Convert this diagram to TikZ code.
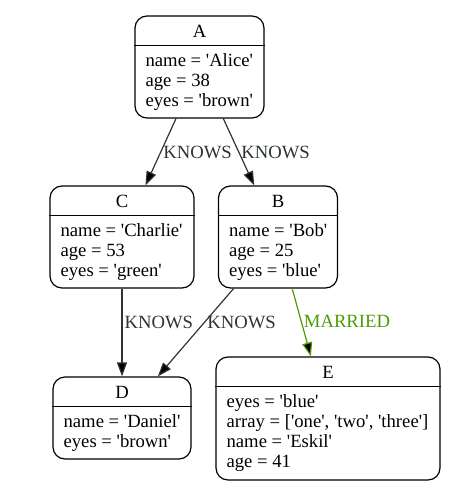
\documentclass[tikz,border=0pt]{standalone}
\usepackage{fontspec}
\setmainfont{Liberation Serif}
\usetikzlibrary{positioning,arrows.meta}
\definecolor{edgegray}{HTML}{2E3436}
\definecolor{marrygreen}{HTML}{4E9A06}
\tikzset{
  record/.style={draw,rounded corners=12pt,line width=1.2pt,inner sep=0pt},
  rectitle/.style={inner sep=0pt},
  recfields/.style={align=left,inner sep=0pt,anchor=north west},
  rel/.style={draw=edgegray,line width=1.2pt,-{Triangle[length=14pt,width=10pt]}},
  rellabel/.style={text=edgegray,anchor=west,inner sep=2pt},
}
\newcommand{\recheader}[1]{\draw[line width=1.2pt] ([yshift=-30pt]#1.north west) -- ([yshift=-30pt]#1.north east);}
\newcommand{\sq}{\textquotesingle}

\begin{document}
\begin{tikzpicture}[x=1pt,y=-1pt,font=\fontsize{18.67}{20}\selectfont]
    \useasboundingbox (0,0) rectangle (467,492);
    % records
    \node[record,minimum width=129pt,minimum height=102pt] (A) at (199.5,67) {};
    \node[record,minimum width=144pt,minimum height=102pt] (C) at (122,237) {};
    \node[record,minimum width=119pt,minimum height=102pt] (B) at (278,237) {};
    \node[record,minimum width=138pt,minimum height=82pt] (D) at (122,418) {};
    \node[record,minimum width=224pt,minimum height=123pt] (E) at (328,418.5) {};
    \recheader{A}
    \recheader{C}
    \recheader{B}
    \recheader{D}
    \recheader{E}
    % titles
    \node[rectitle] (A_t) at ([yshift=-16pt]A.north) {A};
    \node[rectitle] (C_t) at ([yshift=-16pt]C.north) {C};
    \node[rectitle] (B_t) at ([yshift=-16pt]B.north) {B};
    \node[rectitle] (D_t) at ([yshift=-16pt]D.north) {D};
    \node[rectitle] (E_t) at ([yshift=-16pt]E.north) {E};
    % properties
    \node[recfields] (A_f) at ([xshift=11pt,yshift=-38pt]A.north west) {name = \sq Alice\sq\\age = 38\\eyes = \sq brown\sq};
    \node[recfields] (C_f) at ([xshift=11pt,yshift=-38pt]C.north west) {name = \sq Charlie\sq\\age = 53\\eyes = \sq green\sq};
    \node[recfields] (B_f) at ([xshift=11pt,yshift=-38pt]B.north west) {name = \sq Bob\sq\\age = 25\\eyes = \sq blue\sq};
    \node[recfields] (D_f) at ([xshift=11pt,yshift=-38pt]D.north west) {name = \sq Daniel\sq\\eyes = \sq brown\sq};
    \node[recfields] (E_f) at ([xshift=11pt,yshift=-38pt]E.north west) {eyes = \sq blue\sq\\array = [\sq one\sq, \sq two\sq, \sq three\sq]\\name = \sq Eskil\sq\\age = 41};
    % relations
    \path[rel]
    (A) edge node[rellabel,pos=0.5] {KNOWS} (C)
    (A) edge node[rellabel,pos=0.5] {KNOWS} (B)
    (C) edge node[rellabel,pos=0.38] {KNOWS} (D)
    (B) edge node[rellabel,pos=0.38] {KNOWS} (D);
    \path[rel,draw=marrygreen]
    (B) edge node[rellabel,text=marrygreen,pos=0.49] {MARRIED} (E);
\end{tikzpicture}
\end{document}
